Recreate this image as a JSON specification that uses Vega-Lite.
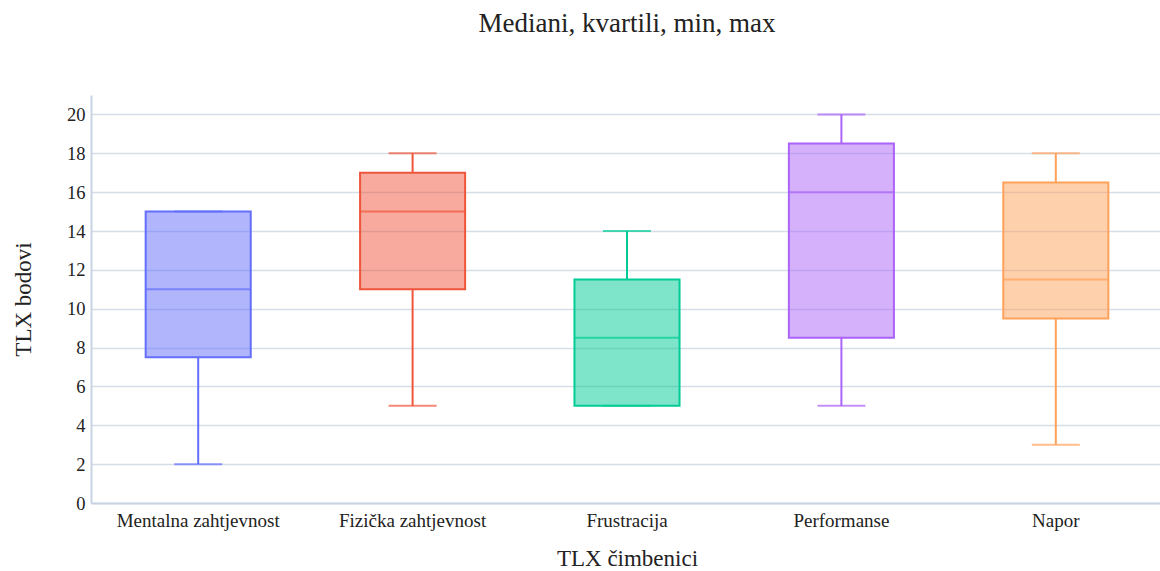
{
  "$schema": "https://vega.github.io/schema/vega-lite/v6.json",
  "autosize": "none",
  "width": 1072,
  "height": 408,
  "padding": {"left": 91, "top": 95, "right": 0, "bottom": 68},
  "background": "white",
  "title": {"text": "Mediani, kvartili, min, max", "font": "Liberation Serif", "fontSize": 27, "fontWeight": "normal", "color": "#222", "offset": 57, "anchor": "middle"},
  "config": {
    "view": {"stroke": null},
    "font": "Liberation Serif"
  },
  "data": {"values": [
    {"cat": "Mentalna zahtjevnost", "min": 2, "q1": 7.5, "median": 11, "q3": 15, "max": 15},
    {"cat": "Fizička zahtjevnost", "min": 5, "q1": 11, "median": 15, "q3": 17, "max": 18},
    {"cat": "Frustracija", "min": 5, "q1": 5, "median": 8.5, "q3": 11.5, "max": 14},
    {"cat": "Performanse", "min": 5, "q1": 8.5, "median": 16, "q3": 18.5, "max": 20},
    {"cat": "Napor", "min": 3, "q1": 9.5, "median": 11.5, "q3": 16.5, "max": 18}
  ]},
  "encoding": {
    "x": {"field": "cat", "type": "nominal", "sort": null, "title": "TLX čimbenici",
      "scale": {"paddingInner": 0, "paddingOuter": 0},
      "axis": {"labelAngle": 0, "labelFont": "Liberation Serif", "labelFontSize": 19, "labelColor": "#222", "labelPadding": 8, "ticks": false, "domainColor": "#c8d4e3", "domainWidth": 2, "titleFont": "Liberation Serif", "titleFontSize": 23, "titleFontWeight": "normal", "titleColor": "#222", "titlePadding": 17}},
    "color": {"field": "cat", "type": "nominal", "sort": null, "legend": null,
      "scale": {"domain": ["Mentalna zahtjevnost", "Fizička zahtjevnost", "Frustracija", "Performanse", "Napor"], "range": ["#636efa", "#EF553B", "#00cc96", "#ab63fa", "#FFA15A"]}}
  },
  "layer": [
    {"mark": {"type": "rule", "strokeWidth": 2},
      "encoding": {"y": {"field": "min", "type": "quantitative", "title": "TLX bodovi",
        "scale": {"domain": [0, 21], "nice": false},
        "axis": {"values": [0, 2, 4, 6, 8, 10, 12, 14, 16, 18, 20], "grid": true, "gridColor": "#d5dde8", "gridWidth": 1.5, "ticks": false, "domainColor": "#c8d4e3", "domainWidth": 2, "labelFont": "Liberation Serif", "labelFontSize": 18.5, "labelColor": "#222", "labelPadding": 6, "titleFont": "Liberation Serif", "titleFontSize": 23, "titleFontWeight": "normal", "titleColor": "#222", "titlePadding": 31}},
        "y2": {"field": "q1"}}},
    {"mark": {"type": "rule", "strokeWidth": 2},
      "encoding": {"y": {"field": "q3", "type": "quantitative"}, "y2": {"field": "max"}}},
    {"mark": {"type": "tick", "thickness": 2, "size": 48},
      "encoding": {"y": {"field": "min", "type": "quantitative"}}},
    {"mark": {"type": "tick", "thickness": 2, "size": 48},
      "encoding": {"y": {"field": "max", "type": "quantitative"}}},
    {"mark": {"type": "bar", "width": {"band": 0.49}, "fillOpacity": 0.5, "strokeWidth": 2},
      "encoding": {"y": {"field": "q1", "type": "quantitative"}, "y2": {"field": "q3"}, "stroke": {"field": "cat", "type": "nominal", "sort": null, "legend": null, "scale": {"domain": ["Mentalna zahtjevnost", "Fizička zahtjevnost", "Frustracija", "Performanse", "Napor"], "range": ["#636efa", "#EF553B", "#00cc96", "#ab63fa", "#FFA15A"]}}}},
    {"mark": {"type": "tick", "thickness": 2, "size": 105},
      "encoding": {"y": {"field": "median", "type": "quantitative"}}}
  ]
}
